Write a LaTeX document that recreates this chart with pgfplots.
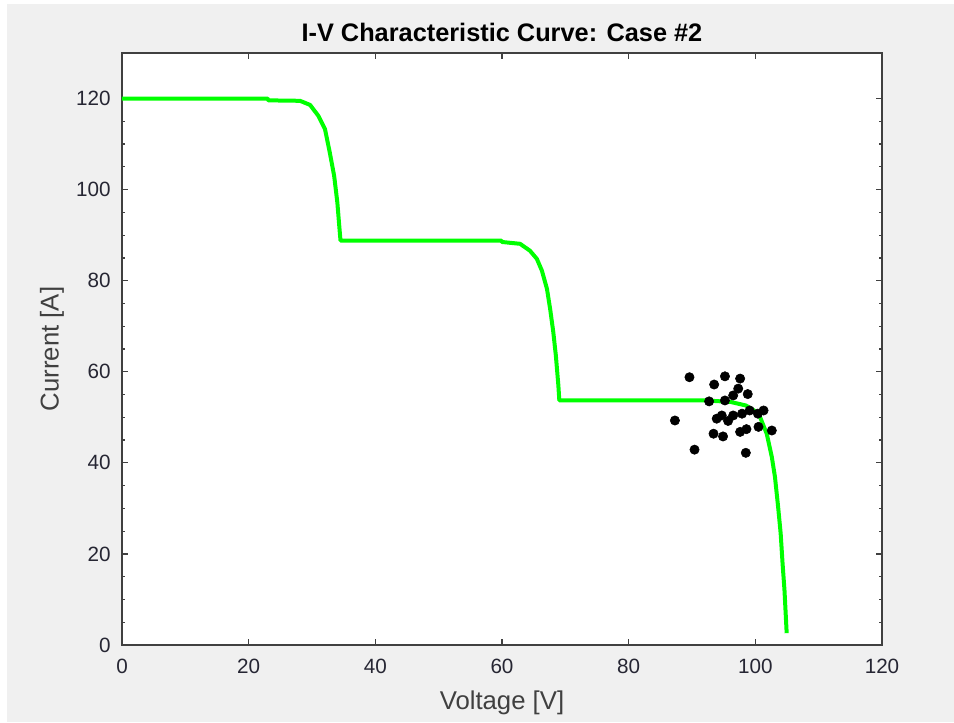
\documentclass[border=0pt]{standalone}
\usepackage{pgfplots}
\pgfplotsset{compat=1.18}
\usepackage{fontspec}
\setmainfont{Liberation Sans}
\definecolor{bggray}{HTML}{F0F0F0}
\definecolor{framegray}{HTML}{404040}
\definecolor{labgray}{HTML}{404040}
\definecolor{tickcol}{HTML}{262633}
\definecolor{curvegreen}{HTML}{00FF00}
\begin{document}
\begin{tikzpicture}
\fill[white] (-91.5pt,-57.75pt) rectangle (624pt,483.75pt);
\fill[bggray] (-86.25pt,-57.75pt) rectangle (624pt,480.75pt);
\begin{axis}[
  at={(0,0)}, anchor=south west,
  scale only axis,
  width=570pt, height=444pt,
  xmin=0, xmax=120, ymin=0, ymax=130,
  xtick={0,20,...,120}, ytick={0,20,...,120},
  minor y tick num=3,
  tick align=inside,
  major tick length=4.5pt, minor tick length=2.5pt,
  axis background/.style={fill=white},
  axis line style={framegray, line width=1.1pt},
  every tick/.style={framegray, line width=0.9pt},
  tick label style={font=\fontsize{15.5pt}{18pt}\selectfont, text=tickcol},
  /pgf/number format/assume math mode=true,
  xticklabel style={yshift=-7pt},
  yticklabel style={xshift=-5pt},
  title={\bfseries I-V Characteristic Curve: Case \#2},
  title style={font=\fontsize{19pt}{22pt}\selectfont, text=black, at={(axis description cs:0.5,1)}, anchor=center, yshift=9.75pt},
  xlabel={Voltage [V]},
  ylabel={Current [A]},
  label style={font=\fontsize{19.3pt}{22pt}\selectfont, text=labgray},
  xlabel style={at={(axis description cs:0.5,0)}, anchor=center, yshift=-43.5pt},
  ylabel style={at={(axis description cs:-0.0921,0.5)}, anchor=center},
  clip=false,
]
\addplot[curvegreen, line width=3pt, line join=round] coordinates {
(0,120) (23.0,120) (23.1,119.6) (28.1,119.5) (29.7,118.6) (31.0,116.2) (32.05,113.3)
(32.8,108.2) (33.5,103) (34.0,97.2) (34.3,92.1) (34.5,88.8)
(59.9,88.8) (60.0,88.5) (62.85,88.1) (64.4,86.6) (65.5,84.8) (66.3,82.2)
(67.1,78.2) (67.6,73.8) (68.1,68.7) (68.5,63.6) (68.9,57.0) (69.05,53.7)
(92,53.7) (96,53.4) (98.5,52.6) (99.8,51.5) (100.7,50.2) (101.8,46.4)
(102.6,41.3) (103.1,36.9) (103.6,30.3) (104.0,24.5) (104.3,17.9)
(104.6,12.1) (104.95,2.6)
};
\addplot[only marks, mark=*, mark size=3.5pt, black] coordinates {
(89.6,58.8) (95.2,59.0) (97.6,58.5) (93.5,57.2) (97.3,56.3) (98.8,55.1)
(96.5,54.8) (92.7,53.5) (95.2,53.7) (99.1,51.5) (101.3,51.5) (100.4,50.8)
(94.7,50.4) (96.5,50.4) (97.9,50.8) (93.9,49.7) (95.7,49.2) (87.3,49.3)
(100.5,47.9) (102.6,47.1) (98.6,47.4) (97.6,46.8) (93.4,46.4) (94.9,45.8)
(90.4,42.9) (98.5,42.2)
};
\end{axis}
\pgfresetboundingbox
\useasboundingbox (-91.5pt,-57.75pt) rectangle (624pt,483.75pt);
\end{tikzpicture}
\end{document}
